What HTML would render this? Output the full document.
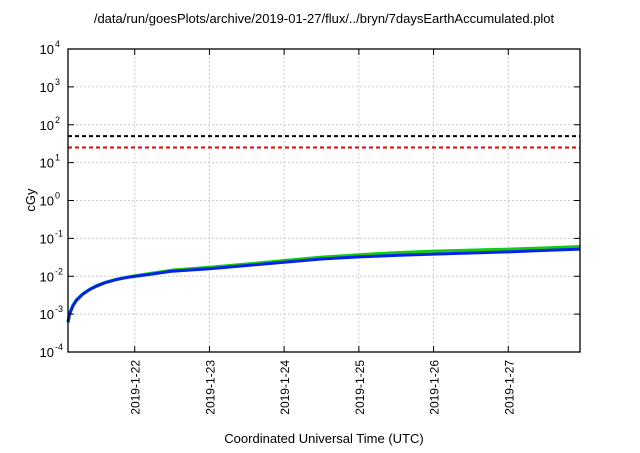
<!DOCTYPE html>
<html><head><meta charset="utf-8"><style>
body{margin:0;background:#fff;font-family:"Liberation Sans",sans-serif;}
svg text{font-family:"Liberation Sans",sans-serif;fill:#000;}
</style></head><body>
<svg id="chart" width="640" height="448" xmlns="http://www.w3.org/2000/svg">
<text x="324" y="23" font-size="13" text-anchor="middle">/data/run/goesPlots/archive/2019-01-27/flux/../bryn/7daysEarthAccumulated.plot</text>
<text transform="translate(35,200) rotate(-90)" font-size="13" text-anchor="middle">cGy</text>
<text x="324" y="443" font-size="13" text-anchor="middle">Coordinated Universal Time (UTC)</text>
<g id="grid"></g>
<g id="marks"></g>
<rect x="68" y="49" width="512" height="303" fill="none" stroke="#000" stroke-width="1.3"/>
<g id="axes"></g>
</svg>
<script>
const dayTicks = [22,23,24,25,26,27];
const dayLabels = ["2019-1-22","2019-1-23","2019-1-24","2019-1-25","2019-1-26","2019-1-27"];
const decadeExps = [-4,-3,-2,-1,0,1,2,3,4];
const thresholds = [50,25];
const thresholdColors = ["#000","#e00"];
const times = [21.107,21.13,21.17,21.22,21.3,21.4,21.5,21.6,21.75,21.9,22.0,22.2,22.5,23.0,23.5,24.0,24.5,25.0,25.5,26.0,26.5,27.0,27.5,27.96];
const greenVals = [0.00065,0.0011,0.0017,0.0024,0.0034,0.0046,0.0058,0.0069,0.0083,0.0095,0.0102,0.0118,0.0145,0.0172,0.021,0.026,0.032,0.037,0.042,0.046,0.049,0.052,0.056,0.061];
const blueVals = [0.0006,0.001,0.0016,0.0023,0.0033,0.0045,0.0056,0.0067,0.0081,0.0093,0.0099,0.0112,0.0136,0.0158,0.0192,0.0235,0.0285,0.0325,0.0355,0.0385,0.041,0.044,0.048,0.052];
const X0=68,X1=580,Y0=49,Y1=352;
const xs=d=>X0+(d-21.107)*(X1-X0)/(27.96-21.107);
const ys=v=>Y0+(4-Math.log10(v))*(Y1-Y0)/8;
const NS="http://www.w3.org/2000/svg";
function mk(tag,attrs,parent){const e=document.createElementNS(NS,tag);for(const k in attrs)e.setAttribute(k,attrs[k]);document.getElementById(parent).appendChild(e);return e;}
dayTicks.forEach((d,i)=>{
  const x=xs(d);
  const g=mk("line",{x1:x,x2:x,y1:Y0,y2:Y1,stroke:"#ccc","stroke-dasharray":"2,2","stroke-width":1},"grid");
  
  
  const t1=mk("line",{x1:x,x2:x,y1:Y1,y2:Y1-6,stroke:"#000"},"axes");
  
  
  const t2=mk("line",{x1:x,x2:x,y1:Y0,y2:Y0+6,stroke:"#000"},"axes");
  
  
  const l=mk("text",{transform:`translate(${x+5},${Y1+8}) rotate(-90)`,"font-size":"12","text-anchor":"end"},"axes");
  l.textContent=dayLabels[i];
  
  
});
decadeExps.forEach(e=>{
  const y=ys(Math.pow(10,e));
  if(e>-4&&e<4){
    const g=mk("line",{x1:X0,x2:X1,y1:y,y2:y,stroke:"#ccc","stroke-dasharray":"2,2","stroke-width":1},"grid");
    
    
  }
  const t1=mk("line",{x1:X0,x2:X0+6,y1:y,y2:y,stroke:"#000"},"axes");
  
  
  const t2=mk("line",{x1:X1,x2:X1-6,y1:y,y2:y,stroke:"#000"},"axes");
  
  
  const l=mk("text",{x:X0-14,y:y+5,"font-size":"13","text-anchor":"end"},"axes");
  l.textContent="10";
  
  
  const s=mk("text",{x:X0-13,y:y-2,"font-size":"9"},"axes");
  s.textContent=String(e);
  
  
});
thresholds.forEach((v,i)=>{
  const y=ys(v);
  const l=mk("line",{x1:X0,x2:X1,y1:y,y2:y,stroke:thresholdColors[i],"stroke-width":2,"stroke-dasharray":"4,3"},"marks");
  
  
});
function path(vals){return vals.map((v,i)=>(i?"L":"M")+xs(times[i]).toFixed(1)+","+ys(v).toFixed(1)).join(" ");}
const g=mk("path",{d:path(greenVals),fill:"none",stroke:"#1c1","stroke-width":3},"marks");


const b=mk("path",{d:path(blueVals),fill:"none",stroke:"#0022ee","stroke-width":3},"marks");


</script>
</body></html>
